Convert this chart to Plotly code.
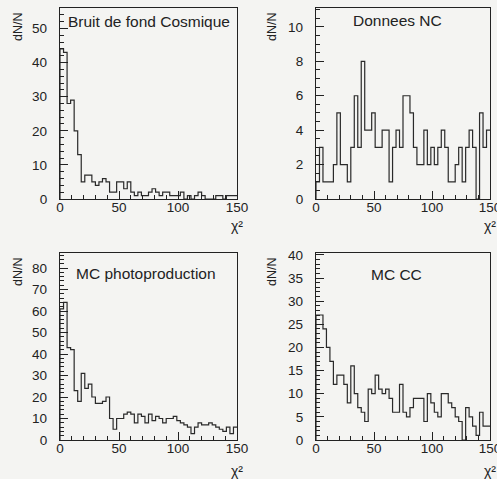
import numpy as np
import plotly.graph_objects as go

W, H = 497, 479

# bin edges: 50 bins of width 3 over chi2 in [0, 150]
chi2_edges = np.arange(0, 151, 3)

cosmique = [44, 43, 28, 29, 20, 13, 5, 7, 7, 5, 4, 5, 6, 5, 2, 2, 5, 5, 3, 5,
            2, 1, 2, 1, 1, 2, 3, 2, 1, 2, 2, 1, 1, 1, 2, 0, 1, 0, 1, 2,
            1, 0, 0, 0, 1, 1, 0, 1, 1, 1]
donnees = [1, 3, 1, 1, 1, 2, 5, 2, 2, 1, 3, 6, 3, 8, 4, 4, 5, 3, 3, 4,
           4, 1, 3, 4, 3, 6, 6, 5, 3, 2, 2, 4, 2, 3, 2, 3, 4, 3, 1, 1,
           2, 3, 1, 3, 4, 3, 0, 5, 3, 4]
photo = [61, 64, 43, 42, 23, 18, 31, 24, 26, 20, 17, 17, 18, 20, 10, 5, 10, 10, 12, 13,
         12, 8, 12, 11, 8, 12, 9, 11, 10, 8, 10, 10, 11, 9, 8, 7, 6, 3, 6, 8,
         7, 7, 8, 7, 6, 5, 4, 6, 3, 6]
mccc = [27, 27, 24, 20, 17, 12, 14, 14, 12, 8, 16, 10, 7, 6, 4, 11, 10, 14, 11, 10,
        11, 9, 6, 6, 12, 6, 5, 7, 9, 9, 9, 4, 10, 8, 6, 5, 10, 10, 8, 7,
        5, 4, 0, 7, 5, 3, 1, 6, 3, 3]

titles = ["Bruit de fond Cosmique", "Donnees NC", "MC photoproduction", "MC CC"]
series = [cosmique, donnees, photo, mccc]
y_ranges = [[0, 56], [0, 11.1], [0, 87], [0, 40.4]]
y_major = [10, 2, 10, 5]
y_minor = [2, 0.5, 2, 1]
x_ticks = [0, 50, 100, 150]

# title placement (pixel centre of each title)
title_pos = [(149, 22), (397, 21), (146, 273), (396, 274)]


def px_x(p):
    return p / W


def px_y(p):
    return 1 - p / H


x_dom = [[px_x(60), px_x(237)], [px_x(316), px_x(490)]]
y_dom = [[px_y(199), px_y(8)], [px_y(440), px_y(253)]]
ytitle_x = [18, 272]
chi_y = [226, 471]

fig = go.Figure()
font = "Liberation Sans, Arial, sans-serif"
ink = "#222222"

for i, counts in enumerate(series):
    n = i + 1
    xs = [0] + list(chi2_edges)
    ys = [0] + list(counts) + [counts[-1]]
    fig.add_trace(go.Scatter(
        x=xs, y=ys, mode="lines", line=dict(shape="hv", color="#2a2a2a", width=1.2),
        xaxis="x" if n == 1 else f"x{n}", yaxis="y" if n == 1 else f"y{n}",
        showlegend=False, hoverinfo="skip"))
    col = i % 2
    row = i // 2
    xa = dict(domain=x_dom[col], range=[0, 150], showline=True, mirror=True,
              linecolor=ink, linewidth=1.3, ticks="inside", ticklen=8, tickwidth=1,
              tickcolor=ink, tickvals=x_ticks, showgrid=False, zeroline=False,
              tickfont=dict(family=font, size=13.5, color=ink), ticklabelstandoff=-4,
              ticklabeloverflow="allow",
              minor=dict(dtick=10, tick0=0, ticks="inside", ticklen=4, tickcolor=ink, showgrid=False),
              anchor="y" if n == 1 else f"y{n}", fixedrange=True, automargin=False)
    ya = dict(domain=y_dom[row], range=y_ranges[i], showline=True, mirror=True,
              linecolor=ink, linewidth=1.3, ticks="inside", ticklen=8, tickwidth=1,
              tickcolor=ink, dtick=y_major[i], tick0=0, showgrid=False, zeroline=False,
              tickfont=dict(family=font, size=13.5, color=ink), ticklabelstandoff=9,
              ticklabeloverflow="allow",
              minor=dict(dtick=y_minor[i], tick0=0, ticks="inside", ticklen=4, tickcolor=ink, showgrid=False),
              anchor="x" if n == 1 else f"x{n}", fixedrange=True, automargin=False)
    fig.update_layout(**{("xaxis" if n == 1 else f"xaxis{n}"): xa,
                         ("yaxis" if n == 1 else f"yaxis{n}"): ya})

    tx, ty = title_pos[i]
    fig.add_annotation(text=titles[i], xref="paper", yref="paper",
                       x=px_x(tx), y=px_y(ty), xanchor="center", yanchor="middle",
                       showarrow=False, font=dict(family=font, size=15.5, color=ink))
    # y-axis title dN/N near top-left: anchored by its pixel centre
    fig.add_annotation(text="dN/N", xref="paper", yref="paper",
                       x=px_x(ytitle_x[col]), y=px_y(27 + row * 245),
                       xanchor="center", yanchor="middle", textangle=-90, showarrow=False,
                       font=dict(family=font, size=12.5, color=ink))
    # x-axis title chi2 at bottom-right
    fig.add_annotation(text="χ²", xref="paper", yref="paper",
                       x=x_dom[col][1], y=px_y(chi_y[row]),
                       xanchor="center", yanchor="middle", showarrow=False,
                       font=dict(family=font, size=14, color=ink))

fig.update_layout(width=W, height=H, autosize=False,
                  margin=dict(l=0, r=0, t=0, b=0, autoexpand=False),
                  paper_bgcolor="#f4f4f2", plot_bgcolor="#f4f4f2",
                  showlegend=False)

fig.write_html("out.html", config={"displayModeBar": False},
               post_script="document.body.style.margin='0';document.body.style.overflow='hidden';")
